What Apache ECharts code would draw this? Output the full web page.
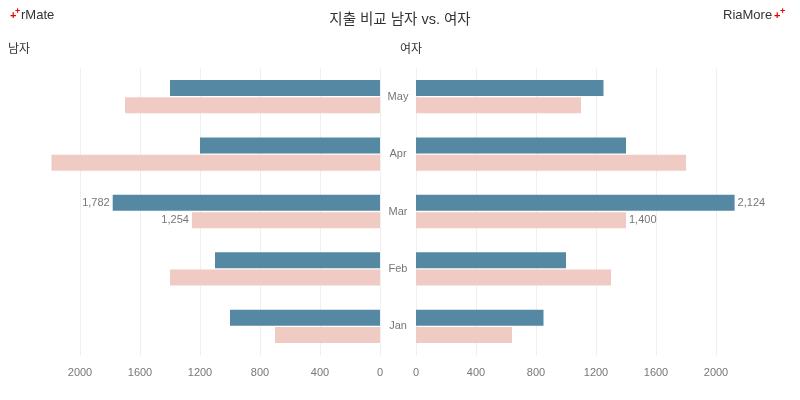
<!DOCTYPE html>
<html><head><meta charset="utf-8">
<script src="https://cdn.jsdelivr.net/npm/echarts@6/dist/echarts.min.js"></script>
<style>html,body{margin:0;padding:0;background:#fff}#c{width:800px;height:400px}</style>
</head><body><div id="c"></div>
<script>
const months = ['Jan','Feb','Mar','Apr','May'];
const maleA = [1000, 1100, 1782, 1200, 1400];
const maleB = [700, 1400, 1254, 2190, 1700];
const femaleA = [850, 1000, 2124, 1400, 1250];
const femaleB = [640, 1300, 1400, 1800, 1100];
const labelMonth = 'Mar';

const BLUE = '#5589a3', PINK = '#f0cbc3';
const font = '"Liberation Sans", "Noto Sans CJK KR", sans-serif';
function fmt(v){ return v.toLocaleString('en-US'); }
function mk(arr){
  return arr.map((v,i)=>({value:v, label:{show: months[i]===labelMonth}}));
}
const chart = echarts.init(document.getElementById('c'));
const lbl = (pos)=>({position:pos, color:'#777', fontSize:11, fontFamily:font, distance:3, formatter:p=>fmt(p.value)});
const xAx = (idx, inv)=>({gridIndex:idx, type:'value', inverse:inv, min:0, max:2200, interval:400,
     axisLine:{show:false}, axisTick:{show:false},
     splitLine:{showMaxLine:false, lineStyle:{color:'#efefef'}},
     axisLabel:{color:'#777', fontSize:11, margin:12, showMaxLabel:false, fontFamily:font, formatter:v=>String(v)}});
chart.setOption({
  animation:false,
  textStyle:{fontFamily:font},
  title:{text:'지출 비교 남자 vs. 여자', left:'center', top:8, textStyle:{fontSize:14.5, fontWeight:'normal', color:'#333', fontFamily:font}},
  graphic:[
    {type:'text', left:10, top:10, style:{text:'+', fill:'#e00', fontSize:11, fontWeight:'bold', fontFamily:font}},
    {type:'text', left:15, top:7, style:{text:'+', fill:'#e00', fontSize:9, fontWeight:'bold', fontFamily:font}},
    {type:'text', left:21, top:9, style:{text:'rMate', fill:'#333', fontSize:13, fontFamily:font}},
    {type:'text', left:723, top:9, style:{text:'RiaMore', fill:'#333', fontSize:13, fontFamily:font}},
    {type:'text', left:774, top:10, style:{text:'+', fill:'#e00', fontSize:11, fontWeight:'bold', fontFamily:font}},
    {type:'text', left:780, top:7, style:{text:'+', fill:'#e00', fontSize:9, fontWeight:'bold', fontFamily:font}},
    {type:'text', left:8, top:44, style:{text:'남자', fill:'#333', fontSize:12, fontFamily:font}},
    {type:'text', left:400, top:44, style:{text:'여자', fill:'#333', fontSize:12, fontFamily:font}}
  ],
  grid:[
    {left:50, right:420, top:68, bottom:45},
    {left:416, right:54, top:68, bottom:45}
  ],
  xAxis:[xAx(0,true), xAx(1,false)],
  yAxis:[
    {gridIndex:0, type:'category', data:months, position:'right',
     axisLine:{show:false}, axisTick:{show:false},
     axisLabel:{color:'#777', fontSize:11, margin:18, align:'center', fontFamily:font, padding:[3,0,0,0]}},
    {gridIndex:1, type:'category', data:months,
     axisLine:{show:false}, axisTick:{show:false}, axisLabel:{show:false}}
  ],
  series:[
    {name:'남자A', type:'bar', xAxisIndex:0, yAxisIndex:0, data:mk(maleA), barWidth:16, barGap:'8%',
     itemStyle:{color:BLUE}, label:lbl('left')},
    {name:'남자B', type:'bar', xAxisIndex:0, yAxisIndex:0, data:mk(maleB), barWidth:16, barGap:'8%',
     itemStyle:{color:PINK}, label:lbl('left')},
    {name:'여자A', type:'bar', xAxisIndex:1, yAxisIndex:1, data:mk(femaleA), barWidth:16, barGap:'8%',
     itemStyle:{color:BLUE}, label:lbl('right')},
    {name:'여자B', type:'bar', xAxisIndex:1, yAxisIndex:1, data:mk(femaleB), barWidth:16, barGap:'8%',
     itemStyle:{color:PINK}, label:lbl('right')}
  ]
});
</script></body></html>
